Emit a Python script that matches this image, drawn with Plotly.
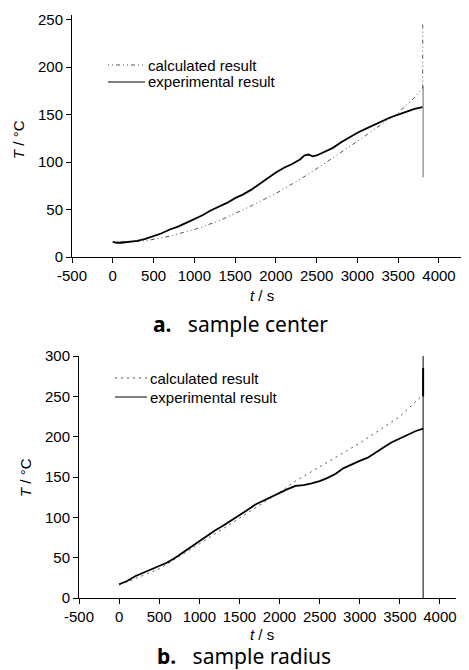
import plotly.graph_objects as go

# ---- data: (a) sample center ----
a_calc_t = [0, 200, 400, 500, 700, 1000, 1300, 1500, 1700, 2000, 2300, 2500, 2800, 3000, 3200, 3500, 3700, 3800, 3801]
a_calc_T = [16, 16, 17, 18.5, 22, 29, 38, 46, 54, 67, 82, 93, 110, 122, 134, 152, 168, 178, 245]

a_exp_t = [0, 50, 100, 200, 300, 400, 500, 600, 700, 800, 900, 1000, 1100, 1200, 1300, 1400, 1500,
           1600, 1700, 1800, 1900, 2000, 2100, 2200, 2300, 2350, 2400, 2450, 2500, 2550, 2600, 2700,
           2800, 2900, 3000, 3100, 3200, 3300, 3400, 3500, 3600, 3700, 3800]
a_exp_T = [16, 15, 15, 16, 17, 19, 22, 25, 29, 32, 36, 40, 44, 49, 53, 57, 62,
           66, 71, 77, 83, 89, 94, 98, 103, 107, 108, 106, 107, 109, 111, 115,
           121, 126, 131, 135, 139, 143, 147, 150, 153, 156, 158]
a_end_t = [3805, 3805]
a_end_T = [180, 84]

# ---- data: (b) sample radius ----
b_calc_t = [0, 500, 1000, 1500, 2000, 2200, 2500, 3000, 3500, 3790]
b_calc_T = [16, 36, 67, 99, 131, 145, 163, 192, 225, 252]

b_exp_t = [0, 100, 200, 300, 400, 500, 600, 700, 800, 900, 1000, 1100, 1200, 1300, 1400, 1500,
           1600, 1700, 1800, 1900, 2000, 2100, 2200, 2300, 2400, 2500, 2600, 2700, 2800, 2900,
           3000, 3100, 3200, 3300, 3400, 3500, 3600, 3700, 3790]
b_exp_T = [17, 21, 27, 31, 35, 39, 44, 50, 57, 63, 70, 77, 84, 90, 96, 102,
           109, 116, 121, 126, 131, 135, 139, 140, 142, 145, 149, 154, 161, 166,
           170, 174, 181, 187, 193, 198, 203, 207, 210]
b_end_t = [3790, 3790]
b_end_T = [0, 300]
b_spike_t = [3790, 3790]
b_spike_T = [250, 285]

x_ticks = [-500, 0, 500, 1000, 1500, 2000, 2500, 3000, 3500, 4000]
x_ticktext = ["-500", "0", "500", "1000", "1500", "2000", "2500", "3000", "3500", "4000"]
a_y_ticks = [0, 50, 100, 150, 200, 250]
b_y_ticks = [0, 50, 100, 150, 200, 250, 300]

FONT = "Arial"
OFF = 8  # page body margin
W, H = 469 - OFF, 670 - OFF
CALC_A = dict(color="#555555", width=1, dash="1px,3px,1px,3px,4px,3px")
CALC_B = dict(color="#555555", width=1, dash="2px,4px")
EXP = dict(color="#000000", width=1.8)

fig = go.Figure()
fig.add_trace(go.Scatter(x=a_calc_t, y=a_calc_T, mode="lines", line=CALC_A, xaxis="x", yaxis="y"))
fig.add_trace(go.Scatter(x=a_exp_t, y=a_exp_T, mode="lines", line=EXP, xaxis="x", yaxis="y"))
fig.add_trace(go.Scatter(x=a_end_t, y=a_end_T, mode="lines", line=dict(color="#666666", width=1),
                         xaxis="x", yaxis="y"))
fig.add_trace(go.Scatter(x=b_calc_t, y=b_calc_T, mode="lines", line=CALC_B, xaxis="x2", yaxis="y2"))
fig.add_trace(go.Scatter(x=b_exp_t, y=b_exp_T, mode="lines", line=EXP, xaxis="x2", yaxis="y2"))
fig.add_trace(go.Scatter(x=b_end_t, y=b_end_T, mode="lines", line=dict(color="#000000", width=1),
                         xaxis="x2", yaxis="y2"))
fig.add_trace(go.Scatter(x=b_spike_t, y=b_spike_T, mode="lines", line=dict(color="#000000", width=2),
                         xaxis="x2", yaxis="y2"))


def px_x(p):
    return (p - OFF) / W


def px_y(p):
    return 1 - (p - OFF) / H


axis_common = dict(showline=True, linecolor="black", linewidth=1, ticks="outside", ticklen=5,
                   tickcolor="black", showgrid=False, zeroline=False, automargin=False,
                   tickfont=dict(family=FONT, size=15, color="black"))

fig.update_layout(
    width=W, height=H, margin=dict(l=0, r=0, t=0, b=0, autoexpand=False),
    paper_bgcolor="white", plot_bgcolor="white", showlegend=False,
    xaxis=dict(domain=[px_x(72), px_x(461)], range=[-500, 4270], tickvals=x_ticks,
               ticktext=x_ticktext, anchor="y", **axis_common),
    yaxis=dict(domain=[px_y(257), px_y(15)], range=[0, 255], tickvals=a_y_ticks,
               anchor="x", **axis_common),
    xaxis2=dict(domain=[px_x(79), px_x(456)], range=[-500, 4200], tickvals=x_ticks,
                ticktext=x_ticktext, anchor="y2", **axis_common),
    yaxis2=dict(domain=[px_y(598), px_y(356)], range=[0, 300], tickvals=b_y_ticks,
                anchor="x2", **axis_common),
)

# manual legend keys (paper coordinates)
legend_rows = [
    (108, 145, 65, CALC_A, "calculated result"),
    (108, 145, 82, dict(color="#000000", width=1), "experimental result"),
    (115, 147, 378, CALC_B, "calculated result"),
    (115, 147, 397, dict(color="#000000", width=1), "experimental result"),
]
for x0, x1, yy, ln, label in legend_rows:
    fig.add_shape(type="line", xref="paper", yref="paper", x0=px_x(x0), x1=px_x(x1),
                  y0=px_y(yy), y1=px_y(yy), line=ln)
    fig.add_annotation(xref="paper", yref="paper", showarrow=False, text=label,
                       x=px_x(x1 + 1), y=px_y(yy), xanchor="left", yanchor="middle",
                       font=dict(family=FONT, size=15, color="black"))

annots = [
    dict(text="<i>T</i> / °C", x=px_x(18), y=px_y(140), textangle=-90),
    dict(text="<i>t</i> / s", x=px_x(262), y=px_y(295)),
    dict(text="<i>T</i> / °C", x=px_x(25), y=px_y(478), textangle=-90),
    dict(text="<i>t</i> / s", x=px_x(262), y=px_y(634)),
]
for a in annots:
    fig.add_annotation(xref="paper", yref="paper", showarrow=False,
                       font=dict(family=FONT, size=15, color="black"),
                       xanchor="center", yanchor="middle", **a)

captions = [
    dict(text="<b>a.</b>&nbsp;&nbsp;&nbsp;sample center", x=px_x(240), y=px_y(324)),
    dict(text="<b>b.</b>&nbsp;&nbsp;&nbsp;sample radius", x=px_x(244), y=px_y(656)),
]
for c in captions:
    fig.add_annotation(xref="paper", yref="paper", showarrow=False,
                       font=dict(family="Noto Sans", size=21, color="black"),
                       xanchor="center", yanchor="middle", **c)

fig.write_html("out.html")
